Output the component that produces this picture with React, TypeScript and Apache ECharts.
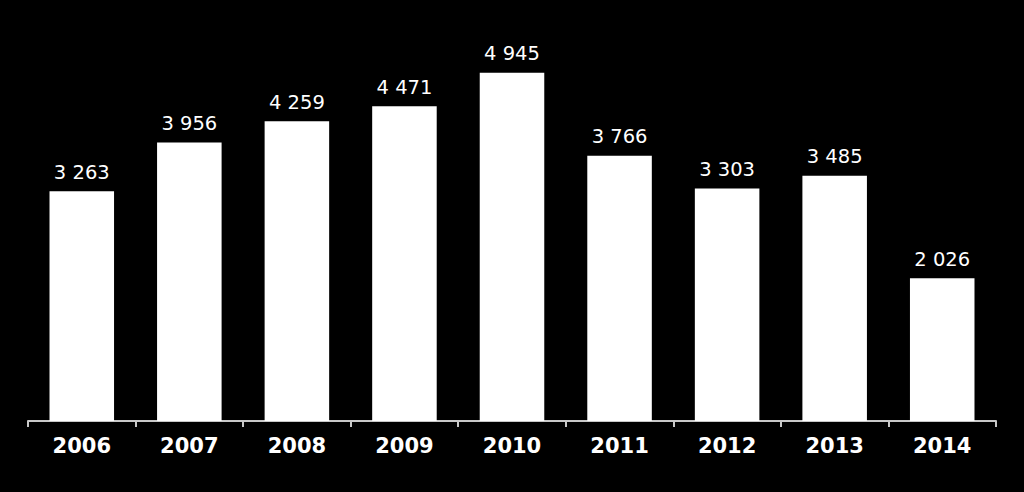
import React, { useEffect, useRef } from "react";
import * as echarts from "echarts";

const categories = ["2006", "2007", "2008", "2009", "2010", "2011", "2012", "2013", "2014"];
const values = [3263, 3956, 4259, 4471, 4945, 3766, 3303, 3485, 2026];

const fmt = (v: number) => {
  const s = String(Math.round(v));
  return s.replace(/\B(?=(\d{3})+(?!\d))/g, " ");
};

export default function App() {
  const ref = useRef<HTMLDivElement>(null);
  useEffect(() => {
    document.body.style.margin = "0";
    document.body.style.background = "#000";
    const chart = echarts.init(ref.current!, null, { renderer: "svg" });
    chart.setOption({
      animation: false,
      backgroundColor: "#000000",
      grid: { left: 28, right: 28, top: 69, bottom: 71 },
      xAxis: {
        type: "category",
        data: categories,
        axisLine: { show: true, lineStyle: { color: "#c8c8c8", width: 2 } },
        axisTick: { show: true, length: 6, lineStyle: { color: "#c8c8c8", width: 2 } },
        axisLabel: {
          color: "#ffffff",
          fontFamily: "DejaVu Sans, sans-serif",
          fontWeight: "bold",
          fontSize: 21,
          margin: 14,
        },
      },
      yAxis: {
        type: "value",
        min: 0,
        max: 5000,
        show: false,
        splitLine: { show: false },
      },
      series: [
        {
          type: "bar",
          data: values,
          barWidth: "60%",
          itemStyle: { color: "#ffffff" },
          label: {
            show: true,
            position: "top",
            distance: 9,
            color: "#ffffff",
            fontFamily: "DejaVu Sans, sans-serif",
            fontSize: 19.5,
            formatter: (p: any) => fmt(p.value),
          },
        },
      ],
    });
    return () => chart.dispose();
  }, []);
  return <div ref={ref} style={{ width: 1024, height: 492 }} />;
}
